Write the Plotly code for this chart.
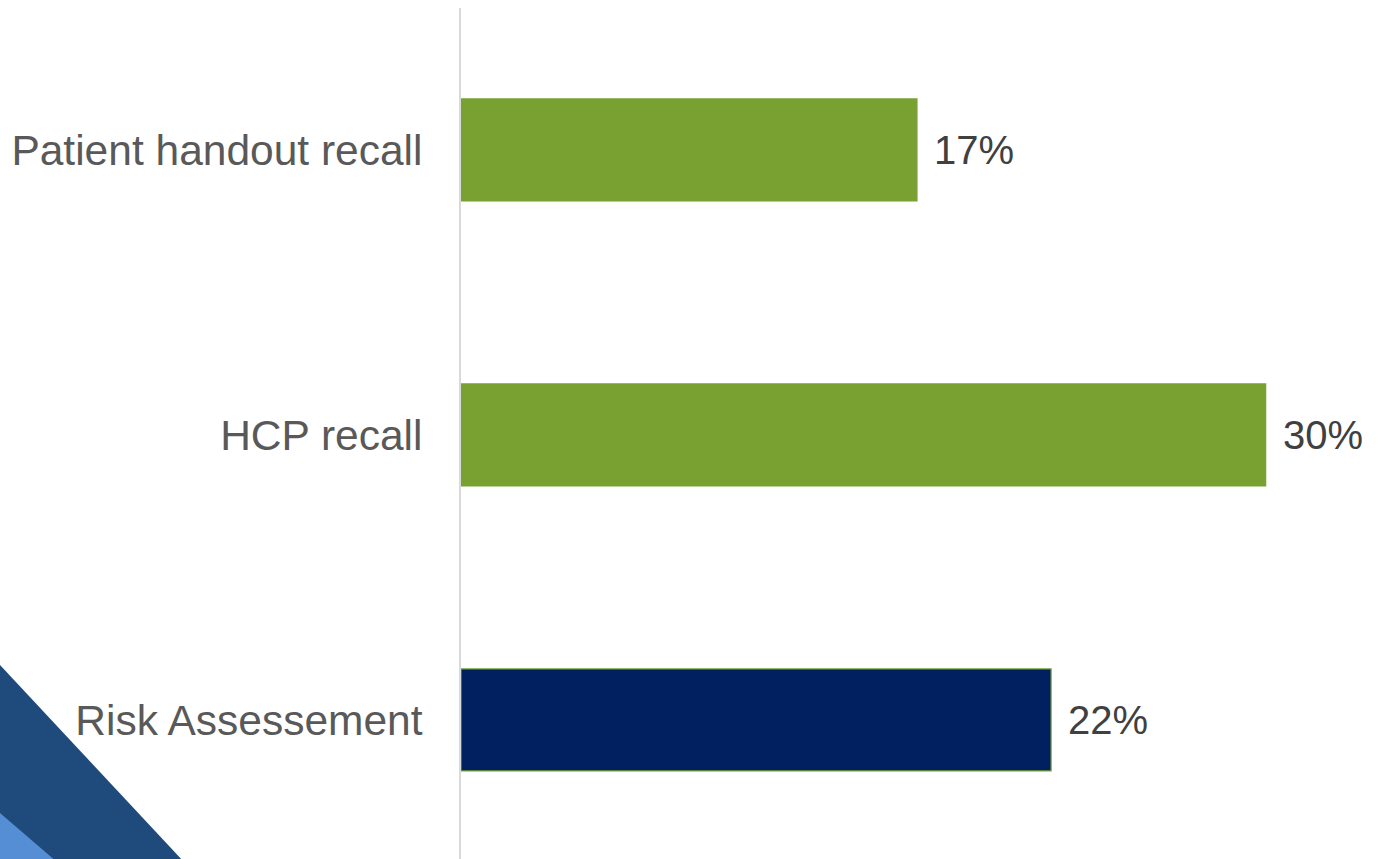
import plotly.graph_objects as go

# Survey recall results
categories = ["Patient handout recall", "HCP recall", "Risk Assessement"]
values = [17, 30, 22]
bar_colors = ["#78A132", "#78A132", "#01205F"]

W, H = 1381, 859
L_MARGIN = 461

fig = go.Figure(
    go.Bar(
        x=values,
        y=categories,
        orientation="h",
        width=0.358,
        marker=dict(color=bar_colors, line=dict(color="#78A132", width=1.2)),
        hoverinfo="skip",
    )
)

# Value labels to the right of each bar
for cat, v in zip(categories, values):
    fig.add_annotation(
        x=v, y=cat, text=f"{v}%", showarrow=False,
        xanchor="left", yanchor="middle", xshift=15,
        font=dict(family="Liberation Sans, Arial, sans-serif", size=40, color="#404040"),
    )

# Decorative corner triangles (paper coordinates relative to plot domain)
def px_to_paper_x(px):
    return (px - L_MARGIN) / (W - L_MARGIN)

def py_to_paper_y(py):
    top, bottom = 8, H
    return (bottom - py) / (bottom - top)

def tri(points, color):
    path = "M " + " L ".join(f"{px_to_paper_x(x)},{py_to_paper_y(y)}" for x, y in points) + " Z"
    fig.add_shape(type="path", path=path, xref="paper", yref="paper",
                  fillcolor=color, line=dict(width=0), layer="below")

tri([(0, 665), (184, 862), (0, 862)], "#1F4A7C")
tri([(0, 813), (57, 862), (0, 862)], "#558ED5")

fig.update_layout(
    width=W, height=H,
    margin=dict(l=L_MARGIN, r=0, t=8, b=0),
    paper_bgcolor="white", plot_bgcolor="white",
    showlegend=False,
    font=dict(family="Liberation Sans, Arial, sans-serif"),
    xaxis=dict(range=[0, 34.3], visible=False, fixedrange=True),
    yaxis=dict(
        type="category",
        categoryorder="array", categoryarray=categories,
        range=[2.488, -0.498],
        showline=True, linecolor="#D9D9D9", linewidth=2,
        showgrid=False, zeroline=False, ticks="",
        ticklabelstandoff=28,
        tickfont=dict(size=42.5, color="#595959"),
        fixedrange=True,
    ),
)

fig.write_html("out.html")
